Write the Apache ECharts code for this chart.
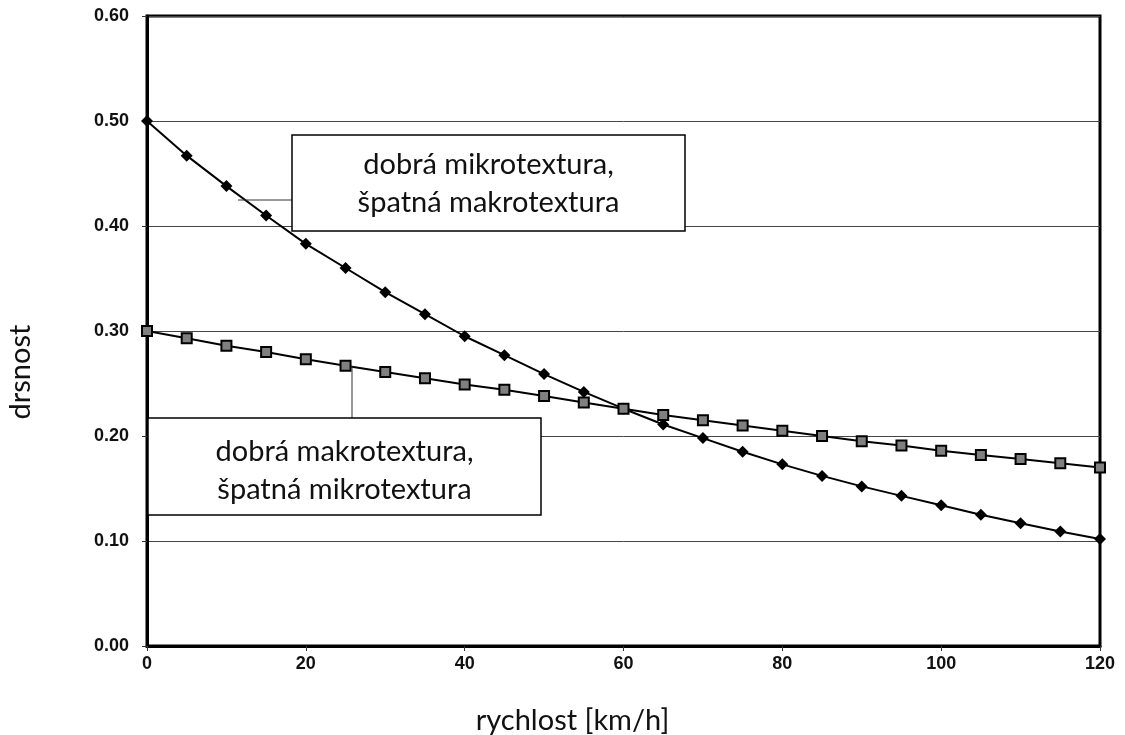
<!DOCTYPE html>
<html>
<head>
<meta charset="utf-8">
<script src="https://cdn.jsdelivr.net/npm/echarts@6/dist/echarts.min.js"></script>
<style>
  html, body { margin: 0; padding: 0; background: #fff; }
  #main { width: 1125px; height: 735px; }
</style>
</head>
<body>
<div id="main"></div>
<script>
// rychlost [km/h]
var speeds = [0, 5, 10, 15, 20, 25, 30, 35, 40, 45, 50, 55, 60, 65, 70, 75, 80, 85, 90, 95, 100, 105, 110, 115, 120];
// dobrá mikrotextura, špatná makrotextura (kosočtverce)
var goodMicro = [0.500, 0.467, 0.438, 0.410, 0.383, 0.360, 0.337, 0.316, 0.295, 0.277, 0.259, 0.242, 0.226,
                 0.211, 0.198, 0.185, 0.173, 0.162, 0.152, 0.143, 0.134, 0.125, 0.117, 0.109, 0.102];
// dobrá makrotextura, špatná mikrotextura (čtverečky)
var goodMacro = [0.300, 0.293, 0.286, 0.280, 0.273, 0.267, 0.261, 0.255, 0.249, 0.244, 0.238, 0.232, 0.226,
                 0.220, 0.215, 0.210, 0.205, 0.200, 0.195, 0.191, 0.186, 0.182, 0.178, 0.174, 0.170];
var labelMicro = ['dobrá mikrotextura,', 'špatná makrotextura'];
var labelMacro = ['dobrá makrotextura,', 'špatná mikrotextura'];

function pairs(ys) {
    var out = [];
    for (var i = 0; i < speeds.length; i++) out.push([speeds[i], ys[i]]);
    return out;
}

var tickFont = { fontFamily: 'Liberation Sans', fontWeight: 'bold', fontSize: 18, color: '#111' };
var textFont = '29px Lato';

var myChart = echarts.init(document.getElementById('main'));

var option = {
    animation: false,
    backgroundColor: '#fff',
    grid: {
        left: 147, right: 25, top: 16, bottom: 89,
        outerBoundsMode: 'none', containLabel: false,
        show: true, borderColor: '#000', borderWidth: 3, backgroundColor: 'transparent'
    },
    xAxis: {
        type: 'value', min: 0, max: 120, interval: 20,
        name: 'rychlost [km/h]', nameLocation: 'middle', nameGap: 60,
        // název osy je v předloze posunutý doleva od středu
        nameTextStyle: { fontFamily: 'Lato', fontSize: 29, color: '#111', padding: [0, 102, 0, 0] },
        axisLine: { lineStyle: { color: '#000', width: 3 } },
        axisTick: { show: true, length: 5, lineStyle: { color: '#333', width: 1 } },
        axisLabel: Object.assign({ margin: 9 }, tickFont),
        splitLine: { show: false }
    },
    yAxis: {
        type: 'value', min: 0, max: 0.6, interval: 0.1,
        name: 'drsnost', nameLocation: 'middle', nameGap: 112, nameRotate: 90,
        nameTextStyle: { fontFamily: 'Lato', fontSize: 29, color: '#111', padding: [0, 82, 0, 0] },
        axisLine: { lineStyle: { color: '#000', width: 3 } },
        axisTick: { show: true, length: 5, lineStyle: { color: '#333', width: 1 } },
        axisLabel: Object.assign({
            margin: 18,
            formatter: function (v) { return v.toFixed(2); }
        }, tickFont),
        splitLine: { show: true, lineStyle: { color: '#444', width: 1 } }
    },
    series: [{
        name: labelMicro.join(' '),
        type: 'line',
        data: pairs(goodMicro),
        symbol: 'diamond',
        symbolSize: 12,
        itemStyle: { color: '#000' },
        lineStyle: { color: '#000', width: 2 },
        z: 3
    }, {
        name: labelMacro.join(' '),
        type: 'line',
        data: pairs(goodMacro),
        symbol: 'rect',
        symbolSize: 10,
        itemStyle: { color: '#808080', borderColor: '#000', borderWidth: 2 },
        lineStyle: { color: '#000', width: 2 },
        z: 3
    }]
};
myChart.setOption(option);

// popisky s odkazovými čarami
function box(x, y, w, h, lines, dy) {
    return [{
        type: 'rect', z: 10,
        shape: { x: x, y: y, width: w, height: h },
        style: { fill: '#fff', stroke: '#000', lineWidth: 1.5 }
    }, {
        type: 'text', z: 11,
        x: x + w / 2, y: y + h / 2 + dy,
        style: {
            text: lines.join('\n'), font: textFont, fill: '#111',
            align: 'center', verticalAlign: 'middle', lineHeight: 38
        }
    }];
}
myChart.setOption({
    graphic: [].concat(
        [{ type: 'line', z: 9, shape: { x1: 238, y1: 200, x2: 292, y2: 200 }, style: { stroke: '#333', lineWidth: 1 } }],
        box(292, 135, 393, 96, labelMicro, 1),
        [{ type: 'line', z: 9, shape: { x1: 352, y1: 366, x2: 352, y2: 418 }, style: { stroke: '#333', lineWidth: 1 } }],
        box(148, 418, 393, 97, labelMacro, 4)
    )
});
</script>
</body>
</html>
